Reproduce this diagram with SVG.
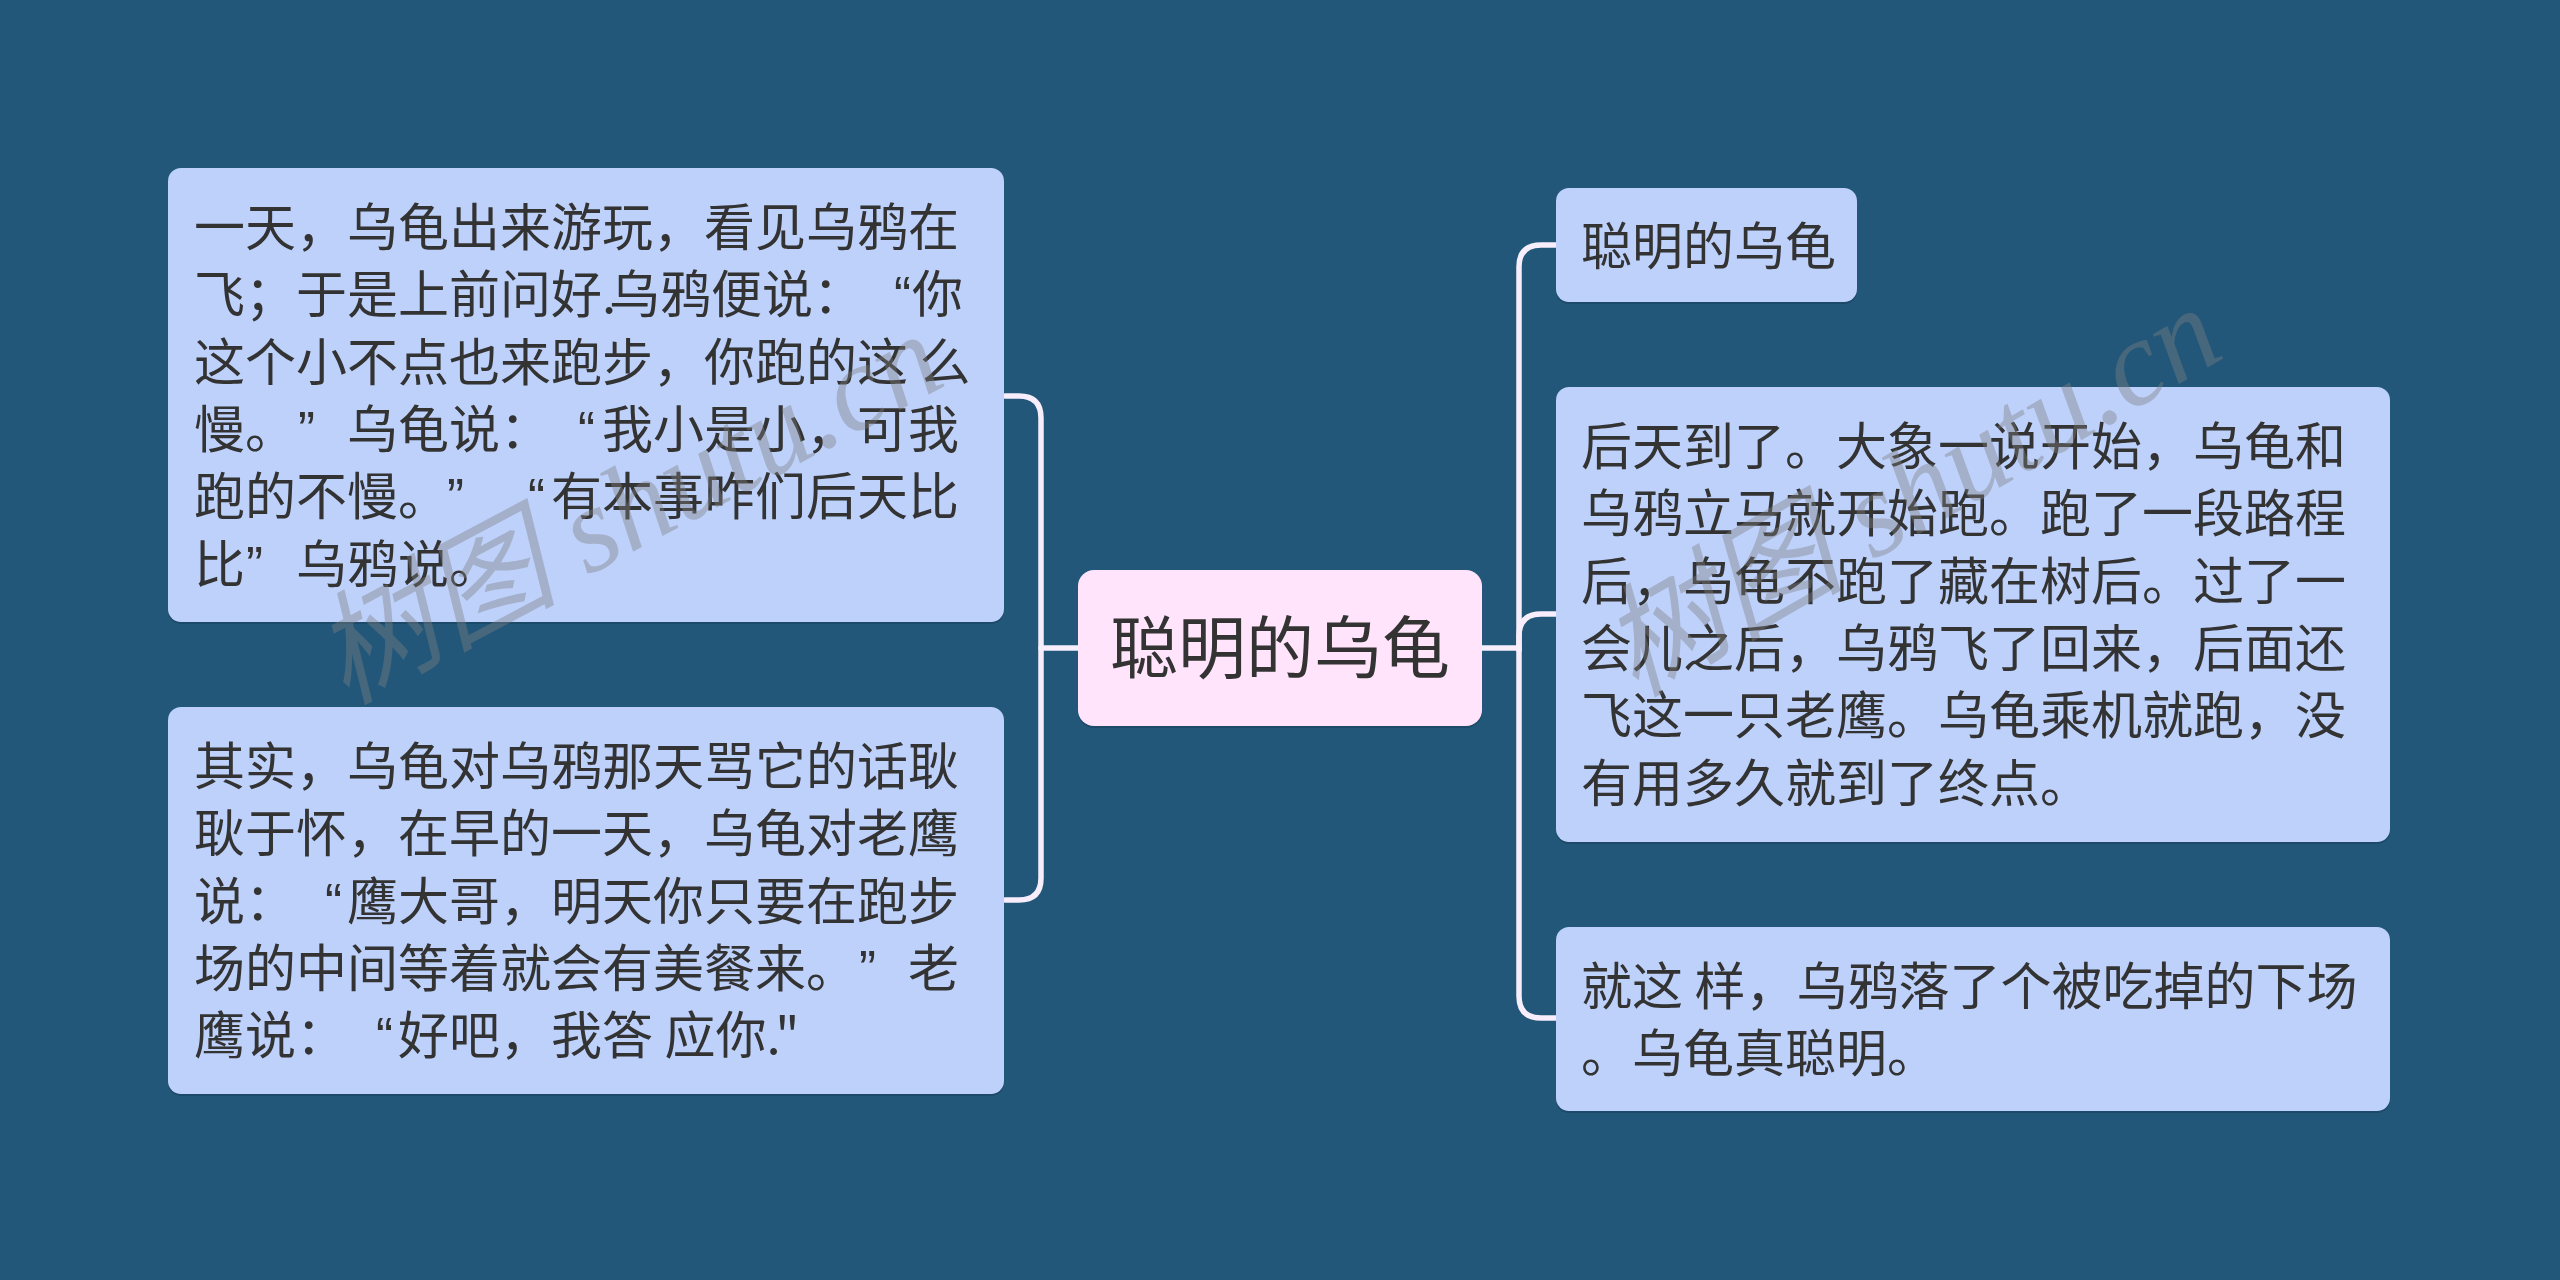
<svg xmlns="http://www.w3.org/2000/svg" width="2560" height="1280" viewBox="0 0 2560 1280">
<style>
.bg{fill:#22577a}
.node{fill:#bdd1fb}
.root{fill:#ffe4fb}
.sh{fill:#173f5a;opacity:0.55}
.t{font-family:"Noto Sans CJK SC","Noto Sans",sans-serif;font-size:51px;fill:#333333;text-spacing-trim:space-all}
.q{font-family:"Liberation Sans",sans-serif}
.rt{font-family:"Noto Sans CJK SC","Noto Sans",sans-serif;font-size:68px;fill:#333333;text-anchor:middle}
.c{fill:none;stroke:#f8eefb;stroke-width:5.5;stroke-linecap:round}
.wm{font-family:"Liberation Serif","Noto Sans CJK SC",serif;font-size:122px;fill:#808080;opacity:0.4;font-style:italic}
</style>
<rect class="bg" x="0" y="0" width="2560" height="1280"/>
<g id="connectors">
<path class="c" d="M1078,648 H1041"/>
<path class="c" d="M1005,396 H1019 Q1041,396 1041,418 V878 Q1041,900 1019,900 H1005"/>
<path class="c" d="M1482,648 H1519"/>
<path class="c" d="M1556,245 H1541 Q1519,245 1519,267 V996 Q1519,1018 1541,1018 H1556"/>
<path class="c" d="M1519,650 V636 Q1519,614 1541,614 H1556"/>
</g>
<g id="root">
<rect class="sh" x="1078" y="572" width="404" height="156" rx="16"/>
<rect class="root" x="1078" y="570" width="404" height="156" rx="16"/>
<text class="rt" x="1280" y="673">聪明的乌龟</text>
</g>
<g id="node-l1">
<rect class="sh" x="168" y="170" width="836" height="454" rx="13"/>
<rect class="node" x="168" y="168" width="836" height="454" rx="13"/>
<text class="t" x="194" y="246">一天，乌龟出来游玩，看见乌鸦在</text>
<text class="t" y="313.3"><tspan x="194">飞；于是上前问好.</tspan><tspan x="609">乌鸦便说：</tspan><tspan class="q" x="894">“</tspan><tspan x="912">你</tspan></text>
<text class="t" x="194" y="380.6">这个小不点也来跑步，你跑的这 么</text>
<text class="t" y="447.9"><tspan x="194">慢。</tspan><tspan class="q" x="298">”</tspan><tspan x="347">乌龟说：</tspan><tspan class="q" x="578">“</tspan><tspan x="602">我小是小，可我</tspan></text>
<text class="t" y="515.2"><tspan x="194">跑的不慢。</tspan><tspan class="q" x="447">”</tspan><tspan class="q" x="528">“</tspan><tspan x="551">有本事咋们后天比</tspan></text>
<text class="t" y="582.5"><tspan x="194">比</tspan><tspan class="q" x="246">”</tspan><tspan x="296">乌鸦说。</tspan></text>
</g>
<g id="node-l2">
<rect class="sh" x="168" y="709" width="836" height="387" rx="13"/>
<rect class="node" x="168" y="707" width="836" height="387" rx="13"/>
<text class="t" x="194" y="785">其实，乌龟对乌鸦那天骂它的话耿</text>
<text class="t" x="194" y="852.3">耿于怀，在早的一天，乌龟对老鹰</text>
<text class="t" y="919.6"><tspan x="194">说：</tspan><tspan class="q" x="325">“</tspan><tspan x="347">鹰大哥，明天你只要在跑步</tspan></text>
<text class="t" y="986.9"><tspan x="194">场的中间等着就会有美餐来。</tspan><tspan class="q" x="859">”</tspan><tspan x="908">老</tspan></text>
<text class="t" y="1054.2"><tspan x="194">鹰说：</tspan><tspan class="q" x="376">“</tspan><tspan x="398">好吧，我答 应你."</tspan></text>
</g>
<g id="node-r1">
<rect class="sh" x="1556" y="190" width="301" height="114" rx="13"/>
<rect class="node" x="1556" y="188" width="301" height="114" rx="13"/>
<text class="t" x="1581" y="265">聪明的乌龟</text>
</g>
<g id="node-r2">
<rect class="sh" x="1556" y="389" width="834" height="455" rx="13"/>
<rect class="node" x="1556" y="387" width="834" height="455" rx="13"/>
<text class="t" x="1581" y="465">后天到了。大象一说开始，乌龟和</text>
<text class="t" x="1581" y="532.3">乌鸦立马就开始跑。跑了一段路程</text>
<text class="t" x="1581" y="599.6">后，乌龟不跑了藏在树后。过了一</text>
<text class="t" x="1581" y="666.9">会儿之后，乌鸦飞了回来，后面还</text>
<text class="t" x="1581" y="734.2">飞这一只老鹰。乌龟乘机就跑，没</text>
<text class="t" x="1581" y="801.5">有用多久就到了终点。</text>
</g>
<g id="node-r3">
<rect class="sh" x="1556" y="929" width="834" height="184" rx="13"/>
<rect class="node" x="1556" y="927" width="834" height="184" rx="13"/>
<text class="t" x="1581" y="1005">就这 样，乌鸦落了个被吃掉的下场</text>
<text class="t" x="1581" y="1072.3">。乌龟真聪明。</text>
</g>
<g id="watermark">
<text class="wm" transform="translate(345,705) rotate(-28)">树图 shutu.cn</text>
<text class="wm" transform="translate(1635,698) rotate(-30)">树图 shutu.cn</text>
</g>
</svg>
